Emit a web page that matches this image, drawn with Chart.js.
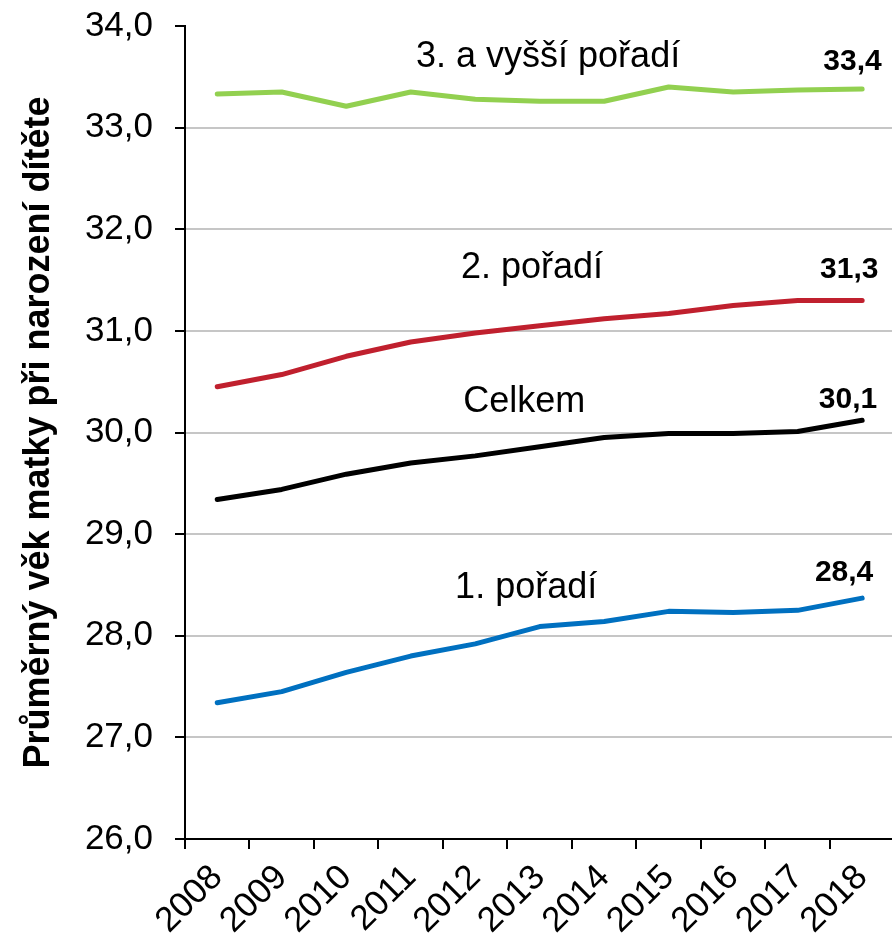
<!DOCTYPE html>
<html>
<head>
<meta charset="utf-8">
<script src="https://cdn.jsdelivr.net/npm/chart.js@4"></script>
<style>
  html, body { margin: 0; padding: 0; background: #fff; overflow: hidden; }
</style>
</head>
<body>
<canvas id="chart" width="900" height="945"></canvas>
<script>
const years = ['2008', '2009', '2010', '2011', '2012', '2013', '2014', '2015', '2016', '2017', '2018'];
const celkem = [29.34, 29.44, 29.59, 29.70, 29.77, 29.86, 29.95, 29.99, 29.99, 30.01, 30.12];
const prvniPoradi = [27.34, 27.45, 27.64, 27.80, 27.92, 28.09, 28.14, 28.24, 28.23, 28.25, 28.37];
const druhePoradi = [30.45, 30.57, 30.75, 30.89, 30.98, 31.05, 31.12, 31.17, 31.25, 31.30, 31.30];
const tretiPoradi = [33.33, 33.35, 33.21, 33.35, 33.28, 33.26, 33.26, 33.40, 33.35, 33.37, 33.38];
const seriesNames = ['3. a vyšší pořadí', '2. pořadí', 'Celkem', '1. pořadí'];
const yMin = 26, yMax = 34, yStep = 1;
const yTitle = 'Průměrný věk matky při narození dítěte';

const fmt = v => v.toFixed(1).replace('.', ',');
const FONT = "'Liberation Sans', Arial, sans-serif";

// text next to each line, placed in data coordinates (category index, value)
const lineLabels = [
  { text: seriesNames[0], x: 5.13, y: 33.69, data: tretiPoradi, vx: 9.85, vy: 33.65 },
  { text: seriesNames[1], x: 4.88, y: 31.62, data: druhePoradi, vx: 9.80, vy: 31.60 },
  { text: seriesNames[2], x: 4.76, y: 30.30, data: celkem, vx: 9.78, vy: 30.32 },
  { text: seriesNames[3], x: 4.79, y: 28.47, data: prvniPoradi, vx: 9.72, vy: 28.62 }
];

const labelPlugin = {
  id: 'lineLabels',
  afterDatasetsDraw(chart) {
    const ctx = chart.ctx;
    const xs = chart.scales.x, ys = chart.scales.y;
    ctx.save();
    ctx.fillStyle = '#000';
    ctx.textBaseline = 'middle';
    ctx.textAlign = 'center';
    lineLabels.forEach(l => {
      ctx.font = '36px ' + FONT;
      ctx.fillText(l.text, xs.getPixelForValue(l.x), ys.getPixelForValue(l.y));
      ctx.font = 'bold 30px ' + FONT;
      ctx.fillText(fmt(l.data[l.data.length - 1]), xs.getPixelForValue(l.vx), ys.getPixelForValue(l.vy));
    });
    ctx.restore();
  }
};

const mkSet = (data, color) => ({
  data,
  borderColor: color,
  borderWidth: 5,
  pointRadius: 0,
  tension: 0,
  borderCapStyle: 'round',
  borderJoinStyle: 'round',
  fill: false
});

new Chart(document.getElementById('chart'), {
  type: 'line',
  data: {
    labels: years,
    datasets: [
      mkSet(tretiPoradi, '#92D050'),
      mkSet(druhePoradi, '#C0202E'),
      mkSet(celkem, '#000000'),
      mkSet(prvniPoradi, '#0070C0')
    ]
  },
  options: {
    responsive: false,
    animation: false,
    devicePixelRatio: 1,
    layout: { padding: { top: 26, right: 3, left: 0, bottom: 0 } },
    plugins: { legend: { display: false }, tooltip: { enabled: false } },
    scales: {
      x: {
        type: 'category',
        offset: true,
        grid: { offset: true, drawOnChartArea: false, tickLength: 10, color: '#000', lineWidth: 2 },
        border: { color: '#000', width: 2 },
        ticks: { color: '#000', font: { family: FONT, size: 35 }, minRotation: 45, maxRotation: 45, padding: 8 },
        afterFit(scale) { scale.height = 106; }
      },
      y: {
        min: yMin,
        max: yMax,
        grid: {
          color: ctx => (ctx.tick && ctx.tick.value === yMax) ? 'rgba(0,0,0,0)' : '#c6c6c6',
          lineWidth: 2,
          tickLength: 10,
          tickColor: '#000',
          tickWidth: 2
        },
        border: { color: '#000', width: 2 },
        ticks: { stepSize: yStep, color: '#000', padding: 22, font: { family: FONT, size: 35 }, callback: v => fmt(v) },
        title: { display: true, text: yTitle, color: '#000', font: { family: FONT, size: 36, weight: 'bold' }, padding: { top: 17, bottom: 0 } },
        afterFit(scale) {
          scale.width = 185;
          scale.paddingTop = 0;
          scale.paddingBottom = 0;
        }
      }
    }
  },
  plugins: [labelPlugin]
});
</script>
</body>
</html>
